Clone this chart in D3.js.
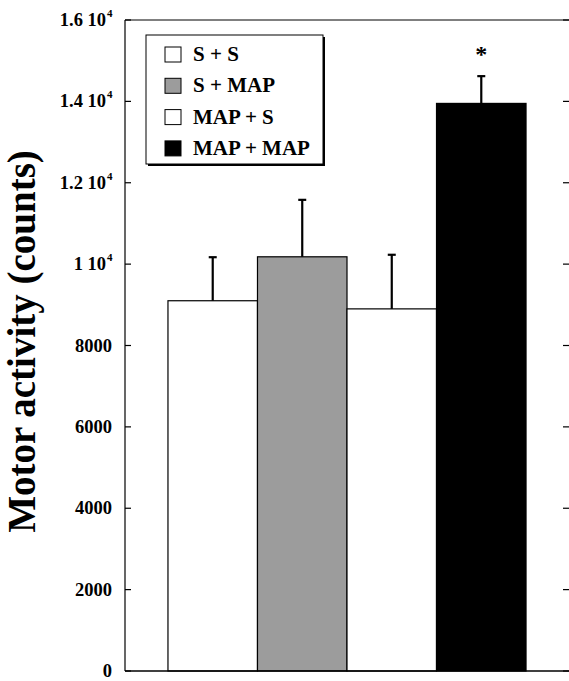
<!DOCTYPE html>
<html>
<head>
<meta charset="utf-8">
<script src="https://cdn.jsdelivr.net/npm/d3@7"></script>
<style>
  html, body { margin: 0; padding: 0; background: #fff; }
  svg { display: block; }
  text { font-family: "Liberation Serif", "Times New Roman", serif; font-weight: bold; fill: #000; }
</style>
</head>
<body>
<svg id="chart" width="569" height="681"></svg>
<script>
// Groups and their mean motor activity with SEM
const groups = ["S + S", "S + MAP", "MAP + S", "MAP + MAP"];
const means = [9100, 10180, 8900, 13950];
const sems = [1070, 1400, 1330, 670];
const fills = ["#ffffff", "#9c9c9c", "#ffffff", "#000000"];
const significant = [false, false, false, true];
const yTicks = [0, 2000, 4000, 6000, 8000, 10000, 12000, 14000, 16000];
const yTickMantissa = ["0", "2000", "4000", "6000", "8000", "1", "1.2", "1.4", "1.6"];
const yTickExponent = ["", "", "", "", "", "4", "4", "4", "4"];
const yTitle = "Motor activity (counts)";

const svg = d3.select("#chart");
const plot = { left: 125, right: 569, top: 20, bottom: 671 };

const x = d3.scaleBand()
  .domain(groups)
  .range([plot.left, plot.right])
  .paddingInner(0)
  .paddingOuter(0.48);

const y = d3.scaleLinear()
  .domain([0, 16000])
  .range([plot.bottom, plot.top]);

// Bars
svg.append("g").selectAll("rect")
  .data(groups)
  .join("rect")
  .attr("x", d => x(d))
  .attr("y", (d, i) => y(means[i]))
  .attr("width", x.bandwidth())
  .attr("height", (d, i) => y(0) - y(means[i]))
  .attr("fill", (d, i) => fills[i])
  .attr("stroke", "#000")
  .attr("stroke-width", 1.2);

// Upper error bars
const err = svg.append("g").attr("stroke", "#000");
groups.forEach((g, i) => {
  const cx = x(g) + x.bandwidth() / 2;
  err.append("line")
    .attr("x1", cx).attr("x2", cx)
    .attr("y1", y(means[i])).attr("y2", y(means[i] + sems[i]))
    .attr("stroke-width", 2.2);
  err.append("line")
    .attr("x1", cx - 4).attr("x2", cx + 4)
    .attr("y1", y(means[i] + sems[i])).attr("y2", y(means[i] + sems[i]))
    .attr("stroke-width", 2.2);
  if (significant[i]) {
    svg.append("text")
      .attr("x", cx)
      .attr("y", y(means[i] + sems[i]) - 14)
      .attr("text-anchor", "middle")
      .attr("font-size", 24)
      .text("*");
  }
});

// Frame: left axis, top line and baseline
const frame = svg.append("g").attr("stroke", "#000").attr("fill", "none");
frame.append("line").attr("x1", plot.left).attr("x2", plot.left)
  .attr("y1", plot.top).attr("y2", plot.bottom).attr("stroke-width", 1.2);
frame.append("line").attr("x1", plot.left).attr("x2", plot.right)
  .attr("y1", plot.top).attr("y2", plot.top).attr("stroke-width", 1);
frame.append("line").attr("x1", plot.left).attr("x2", plot.right)
  .attr("y1", plot.bottom).attr("y2", plot.bottom).attr("stroke-width", 1.5);

// Inward ticks on left and right
const ticks = svg.append("g").attr("stroke", "#000").attr("stroke-width", 1.2);
yTicks.forEach(t => {
  ticks.append("line").attr("x1", plot.left).attr("x2", plot.left + 6)
    .attr("y1", y(t)).attr("y2", y(t));
  ticks.append("line").attr("x1", plot.right - 6).attr("x2", plot.right)
    .attr("y1", y(t)).attr("y2", y(t));
});

// Tick labels, with scientific notation for the upper values
const labels = svg.append("g");
yTicks.forEach((t, i) => {
  const exp = yTickExponent[i];
  labels.append("text")
    .attr("x", exp ? 106 : 112)
    .attr("y", y(t) + 6)
    .attr("text-anchor", "end")
    .attr("font-size", 18.5)
    .text(exp ? yTickMantissa[i] + " 10" : yTickMantissa[i]);
  if (exp) {
    labels.append("text")
      .attr("x", 107)
      .attr("y", y(t) - 3)
      .attr("font-size", 11)
      .text(exp);
  }
});

// Y-axis title
svg.append("text")
  .attr("transform", `translate(35, ${(150 + 533) / 2}) rotate(-90)`)
  .attr("text-anchor", "middle")
  .attr("font-size", 39)
  .text(yTitle);

// Legend with drop shadow
const leg = { x: 146, y: 35, w: 177, h: 129 };
const legend = svg.append("g");
legend.append("rect")
  .attr("x", leg.x + 2).attr("y", leg.y + 2)
  .attr("width", leg.w).attr("height", leg.h)
  .attr("fill", "#000");
legend.append("rect")
  .attr("x", leg.x).attr("y", leg.y)
  .attr("width", leg.w).attr("height", leg.h)
  .attr("fill", "#fff").attr("stroke", "#000").attr("stroke-width", 1);
groups.forEach((g, i) => {
  const base = 61 + i * 31.3;
  legend.append("rect")
    .attr("x", 165).attr("y", base - 14)
    .attr("width", 16).attr("height", 15)
    .attr("fill", fills[i]).attr("stroke", "#000").attr("stroke-width", 1);
  legend.append("text")
    .attr("x", 193).attr("y", base)
    .attr("font-size", 21)
    .text(g);
});
</script>
</body>
</html>
